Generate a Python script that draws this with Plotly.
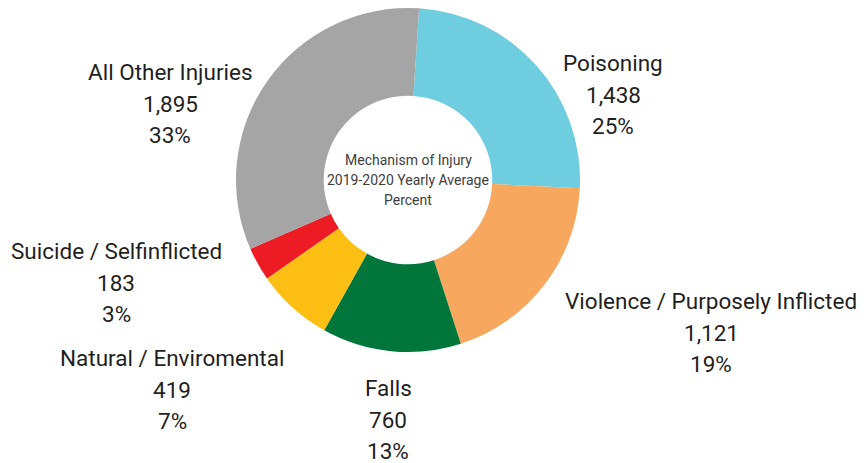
import plotly.graph_objects as go

categories = ["Poisoning", "Violence / Purposely Inflicted", "Falls",
              "Natural / Enviromental", "Suicide / Selfinflicted", "All Other Injuries"]
values = [1438, 1121, 760, 419, 183, 1895]
colors = ["#6ECDDE", "#F7A75E", "#00763B", "#FDBF14", "#ED1C24", "#A5A5A5"]
center_title = ["Mechanism of Injury", "2019-2020 Yearly Average", "Percent"]

FONT = "Roboto, Arial, sans-serif"
W, H = 867, 463
OFF = 8  # page body margin offset of the plot div

# label block anchor positions (screen pixels: x centre, y of first line)
label_pos = {
    "Poisoning": (613, 63),
    "Violence / Purposely Inflicted": (711, 301),
    "Falls": (388, 388),
    "Natural / Enviromental": (172, 358),
    "Suicide / Selfinflicted": (116, 251),
    "All Other Injuries": (170, 72),
}
LINE_GAP = 31.5


def px2x(px):
    return (px - OFF) / W


def py2y(py):
    return 1 - (py - OFF) / H


cx, cy, R = 408, 180, 172

fig = go.Figure(go.Pie(
    labels=categories,
    values=values,
    sort=False,
    direction="clockwise",
    rotation=3.7,
    hole=0.49,
    marker=dict(colors=colors, line=dict(width=0)),
    textinfo="none",
    domain=dict(x=[px2x(cx - R), px2x(cx + R)], y=[py2y(cy + R), py2y(cy - R)]),
    showlegend=False,
    hoverinfo="label+value+percent",
))

total = sum(values)
for cat, val in zip(categories, values):
    px, py = label_pos[cat]
    lines = [cat, f"{val:,}", f"{round(100 * val / total)}%"]
    for i, t in enumerate(lines):
        fig.add_annotation(
            x=px2x(px), y=py2y(py + i * LINE_GAP), xref="paper", yref="paper",
            text=t, showarrow=False, xanchor="center", yanchor="middle",
            font=dict(family=FONT, size=22.5, color="#1f1f1f"),
        )

for i, t in enumerate(center_title):
    fig.add_annotation(
        x=px2x(cx), y=py2y(160 + i * 20), xref="paper", yref="paper",
        text=t, showarrow=False, xanchor="center", yanchor="middle",
        font=dict(family=FONT, size=14, color="#404040"),
    )

fig.update_layout(
    width=W, height=H,
    margin=dict(l=0, r=0, t=0, b=0),
    paper_bgcolor="white",
    plot_bgcolor="white",
)

fig.write_html("out.html")
